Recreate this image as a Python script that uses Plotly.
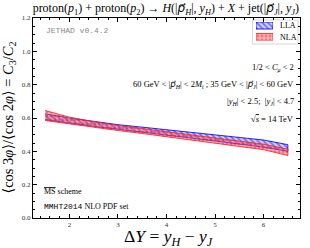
import plotly.graph_objects as go

# ---- data ----
dY = [1.5, 2.0, 2.5, 3.0, 3.5, 4.0, 4.5, 5.0, 5.5, 6.0, 6.5]
lla_low = [0.590, 0.570, 0.550, 0.530, 0.513, 0.497, 0.480, 0.462, 0.445, 0.425, 0.400]
lla_up = [0.625, 0.600, 0.580, 0.560, 0.545, 0.530, 0.515, 0.500, 0.485, 0.468, 0.440]
nla_low = [0.585, 0.565, 0.545, 0.525, 0.507, 0.488, 0.468, 0.450, 0.430, 0.410, 0.375]
nla_up = [0.645, 0.605, 0.578, 0.555, 0.537, 0.517, 0.498, 0.480, 0.462, 0.443, 0.413]
series_names = ["LLA", "NLA"]
x_ticks = [2, 3, 4, 5, 6]
y_ticks = [0.0, 0.2, 0.4, 0.6, 0.8, 1.0, 1.2]

SERIF = "Liberation Serif, DejaVu Serif, serif"
MONO = "Liberation Mono, DejaVu Sans Mono, monospace"
PVEC = "<span style='font-family:DejaVu Sans'><i>p⃗</i></span>"

LLA_STYLE = dict(line="rgba(0,0,255,0.85)", fg="rgb(0,0,235)", bg="rgba(110,110,255,0.3)", shape="\\")
NLA_STYLE = dict(line="rgba(255,30,30,0.85)", fg="rgba(235,0,0,0.75)", bg="rgba(255,90,90,0.45)", shape=".")

fig = go.Figure()

def band(low, up, name, st):
    xs = dY + dY[::-1]
    ys = up + low[::-1]
    fig.add_trace(go.Scatter(
        x=xs, y=ys, mode="lines", fill="toself", name=name, showlegend=False,
        line=dict(color=st["line"], width=1),
        fillcolor=st["bg"],
        fillpattern=dict(shape=st["shape"], fgcolor=st["fg"], bgcolor=st["bg"], size=4, solidity=0.4),
        hoverinfo="skip",
    ))

band(lla_low, lla_up, series_names[0], LLA_STYLE)
band(nla_low, nla_up, series_names[1], NLA_STYLE)

# legend swatches drawn in a small inset axis (legend glyphs only)
for i, st in enumerate([LLA_STYLE, NLA_STYLE]):
    lo, hi = (0.62, 1.0) if i == 0 else (0.0, 0.38)
    fig.add_trace(go.Scatter(
        x=[0, 1, 1, 0, 0], y=[lo, lo, hi, hi, lo], xaxis="x2", yaxis="y2",
        mode="lines", fill="toself", showlegend=False, hoverinfo="skip",
        line=dict(color=st["line"], width=1), fillcolor=st["bg"],
        fillpattern=dict(shape=st["shape"], fgcolor=st["fg"], bgcolor=st["bg"], size=4, solidity=0.4),
    ))

axis_common = dict(
    showline=True, linecolor="black", linewidth=1, mirror="ticks",
    ticks="inside", ticklen=4, tickwidth=1, tickcolor="black",
    showgrid=False, zeroline=False,
    tickfont=dict(family=SERIF, size=7, color="#333"),
)

# paper coords: plot area x 33..300, y 18..218 (px)
def px(xp):
    return (xp - 33) / 267.0
def py(yp):
    return (218 - yp) / 200.0

fig.update_xaxes(range=[1.25, 6.75], tickvals=x_ticks,
                 minor=dict(ticks="inside", ticklen=2, dtick=0.2, tick0=0, tickcolor="black", showgrid=False),
                 **axis_common)
fig.update_yaxes(range=[0, 1.2], tickvals=y_ticks, ticktext=[f"{v:.1f}" for v in y_ticks],
                 minor=dict(ticks="inside", ticklen=2, dtick=0.05, tick0=0, tickcolor="black", showgrid=False),
                 **axis_common)

ann = []
def txt(x, y, s, size=8.5, anchor="right", font=SERIF, color="black", angle=0):
    ann.append(dict(x=x, y=y, xref="paper", yref="paper", text=s, showarrow=False,
                    xanchor=anchor, yanchor="middle", textangle=angle,
                    font=dict(family=font, size=size, color=color)))

txt(px(296), py(67.7), "1/2 &lt; <i>C</i><sub><i>μ</i></sub> &lt; 2")
txt(px(296), py(84.3), f"60 GeV &lt; |{PVEC}<sub><i>H</i></sub>| &lt; 2<i>M</i><sub><i>t</i></sub> ; 35 GeV &lt; |{PVEC}<sub><i>J</i></sub>| &lt; 60 GeV")
txt(px(296), py(101), "|<i>y</i><sub><i>H</i></sub>| &lt; 2.5;  |<i>y</i><sub><i>J</i></sub>| &lt; 4.7")
txt(px(296), py(119.3), "√<span style='text-decoration:overline'><i>s</i></span> = 14 TeV")
txt(px(44), py(31), "JETHAD v0.4.2", size=8, anchor="left", font=MONO, color="#888")
txt(px(42), py(191), "<span style='text-decoration:overline'>MS</span> scheme", size=8, anchor="left")
txt(px(42), py(206.7), "<span style='font-family:Liberation Mono, monospace'>MMHT2014</span> NLO PDF set", size=8, anchor="left")

# axis titles
txt(px(168), py(237.5), "Δ<i>Y</i> = <i>y</i><sub><i>H</i></sub> − <i>y</i><sub><i>J</i></sub>", size=17.5, anchor="center")
txt(px(8.5), py(118), "⟨cos 3<i>φ</i>⟩/⟨cos 2<i>φ</i>⟩ = <i>C</i><sub>3</sub>/<i>C</i><sub>2</sub>", size=14.5, anchor="center", angle=-90)

# legend text
txt(px(278), py(25), series_names[0], size=8, anchor="left")
txt(px(278), py(37.5), series_names[1], size=8, anchor="left")

fig.update_layout(
    width=310, height=248,
    margin=dict(l=33, r=10, t=18, b=30),
    paper_bgcolor="white", plot_bgcolor="white",
    title=dict(text=f"proton(<i>p</i><sub>1</sub>) + proton(<i>p</i><sub>2</sub>) → <i>H</i>(|{PVEC}<sub><i>H</i></sub>|, <i>y</i><sub><i>H</i></sub>) + <i>X</i> + jet(|{PVEC}<sub><i>J</i></sub>|, <i>y</i><sub><i>J</i></sub>)",
               x=0.535, xanchor="center", y=0.967, yanchor="middle",
               font=dict(family=SERIF, size=12, color="black")),
    showlegend=False,
    xaxis2=dict(domain=[px(256), px(273)], range=[0, 1], anchor="y2", visible=False, fixedrange=True),
    yaxis2=dict(domain=[py(40.5), py(22)], range=[0, 1], anchor="x2", visible=False, fixedrange=True),
    shapes=[dict(type="rect", xref="paper", yref="paper", x0=px(252.5), x1=px(298), y0=py(44), y1=py(20),
                 line=dict(color="#ccc", width=0.8), fillcolor="white", layer="below")],
    annotations=ann,
)

fig.write_html("out.html", config={"displayModeBar": False},
               post_script="document.body.style.margin='0';document.body.style.overflow='hidden';")
